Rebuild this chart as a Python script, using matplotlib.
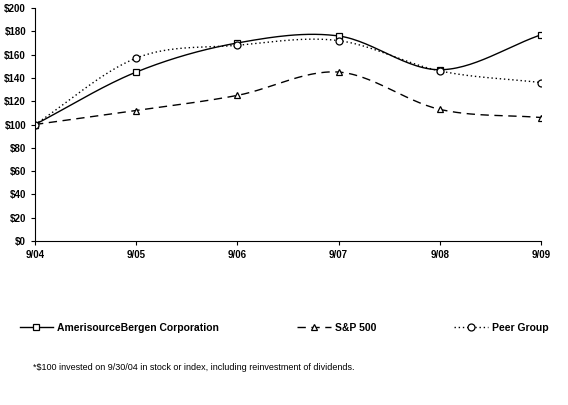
import numpy as np
import matplotlib.pyplot as plt

plt.rcParams['font.family'] = ['Liberation Sans', 'DejaVu Sans']

years = ["9/04", "9/05", "9/06", "9/07", "9/08", "9/09"]
abc = [100, 145, 170, 176, 147, 177]
sp500 = [100, 112, 125, 145, 113, 106]
peer = [100, 157, 168, 172, 146, 136]


def smooth(y, n=30):
    # Catmull-Rom curve through the points (the original chart uses smoothed lines)
    y = np.asarray(y, float)
    p = np.concatenate([[2 * y[0] - y[1]], y, [2 * y[-1] - y[-2]]])
    xs, ys = [], []
    for i in range(len(y) - 1):
        t = np.linspace(0, 1, n, endpoint=False)
        p0, p1, p2, p3 = p[i], p[i + 1], p[i + 2], p[i + 3]
        ys.append(0.5 * (2 * p1 + (-p0 + p2) * t + (2 * p0 - 5 * p1 + 4 * p2 - p3) * t ** 2
                         + (-p0 + 3 * p1 - 3 * p2 + p3) * t ** 3))
        xs.append(i + t)
    xs.append([len(y) - 1])
    ys.append([y[-1]])
    return np.concatenate(xs), np.concatenate(ys)


fig = plt.figure(figsize=(5.68, 4.05), dpi=100)
ax = fig.add_axes([35 / 568, 1 - 241 / 405, 506 / 568, 233 / 405])
x = np.arange(len(years))

series = [
    (abc, "-", "s", "AmerisourceBergen Corporation"),
    (sp500, (0, (6, 4)), "^", "S&P 500"),
    (peer, (0, (1, 2)), "o", "Peer Group"),
]
handles = []
for vals, ls, mk, label in series:
    sx, sy = smooth(vals)
    ax.plot(sx, sy, color="black", lw=1, linestyle=ls)
    ax.plot(x, vals, linestyle="none", marker=mk, ms=5, mfc="white", mec="black", mew=0.9)
    h, = ax.plot([], [], color="black", lw=1, linestyle=ls, marker=mk, ms=5,
                 mfc="white", mec="black", mew=0.9, label=label)
    handles.append(h)

ax.set_xlim(0, len(years) - 1)
ax.set_ylim(0, 200)
ax.set_xticks(x)
ax.set_xticklabels(years, fontsize=7, fontweight="bold")
ax.set_yticks(range(0, 201, 20))
ax.set_yticklabels([f"${v}" for v in range(0, 201, 20)], fontsize=7, fontweight="bold")
ax.tick_params(length=3, direction="out", width=0.8)
for s in ["top", "right"]:
    ax.spines[s].set_visible(False)

fig.legend(handles=handles, loc="center", bbox_to_anchor=(0.5, 1 - 328 / 405), ncol=3,
           frameon=False, prop={"size": 7.5, "weight": "bold"}, handlelength=3.2,
           columnspacing=7.5, handletextpad=0.4)
fig.text(33 / 568, 1 - 368 / 405,
         "*$100 invested on 9/30/04 in stock or index, including reinvestment of dividends.",
         fontsize=6.5, va="center")

fig.savefig("out.png", dpi=100)
